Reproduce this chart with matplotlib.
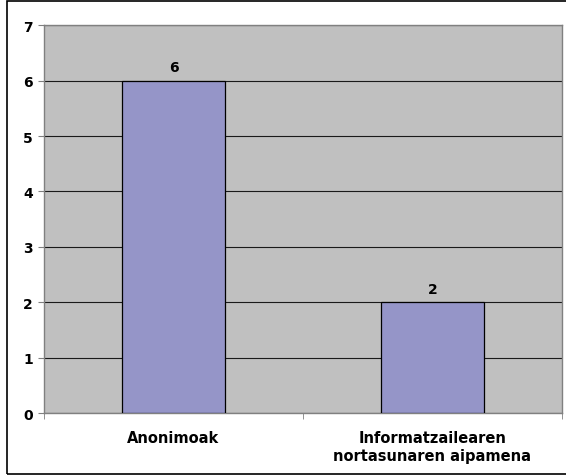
import numpy as np
import matplotlib.pyplot as plt
from matplotlib.patches import Rectangle

categories = ['Anonimoak', 'Informatzailearen\nnortasunaren aipamena']
values = [6, 2]

plt.rcParams['font.family'] = ['DejaVu Sans']

fig = plt.figure(figsize=(5.66, 4.77), dpi=100)
ax = fig.add_axes([0.0777, 0.132, 0.915, 0.813])
ax.set_facecolor('#c0c0c0')

x = np.arange(len(categories))
bars = ax.bar(x, values, width=0.40, color='#9595c8', edgecolor='black', linewidth=0.9, zorder=3)
for b, v in zip(bars, values):
    ax.text(b.get_x() + b.get_width() / 2, v + 0.12, str(v), ha='center', va='bottom',
            fontsize=10, fontweight='bold', zorder=4)

ax.set_xlim(-0.5, 1.5)
ax.set_ylim(0, 7)
ax.set_yticks(range(0, 8))
ax.yaxis.grid(True, color='#1a1a1a', linewidth=0.8, zorder=0)
ax.set_axisbelow(True)

ax.set_xticks(x)
ax.set_xticklabels(categories, fontsize=10.5, fontweight='bold', linespacing=1.3)
ax.set_xticks([-0.5, 0.5, 1.5], minor=True)
ax.tick_params(axis='x', which='major', length=0, pad=12)
ax.tick_params(axis='x', which='minor', length=4, color='#808080', direction='out')
ax.tick_params(axis='y', length=4, color='#808080', labelsize=10, pad=4)
for lbl in ax.get_yticklabels():
    lbl.set_fontweight('bold')

for s in ['top', 'right', 'left', 'bottom']:
    ax.spines[s].set_color('#808080')
    ax.spines[s].set_linewidth(1.0)

fig.patches.append(Rectangle((7 / 566, 2 / 477), 570 / 566, 473 / 477, transform=fig.transFigure,
                             fill=False, edgecolor='black', linewidth=1.2))

plt.savefig('out.png', dpi=100)
